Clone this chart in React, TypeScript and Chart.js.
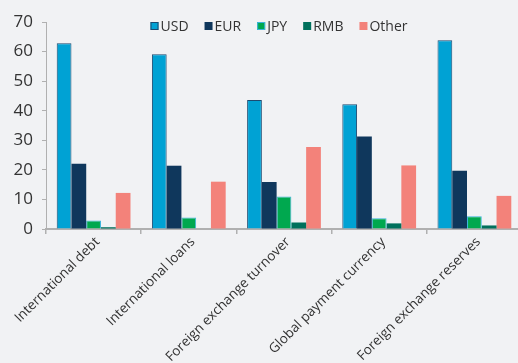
import React, { useEffect, useRef } from "react";
import { Chart, registerables } from "chart.js";

Chart.register(...registerables);

const categories = [
  "International debt",
  "International loans",
  "Foreign exchange turnover",
  "Global payment currency",
  "Foreign exchange reserves",
];
const usd = [62.8, 59.1, 43.6, 42.2, 63.8];
const eur = [22.1, 21.4, 15.9, 31.3, 19.7];
const jpy = [2.9, 3.9, 11.0, 3.6, 4.3];
const rmb = [0.6, 0, 2.2, 1.9, 1.2];
const other = [12.2, 16.0, 27.7, 21.5, 11.2];
const yTicks = [0, 10, 20, 30, 40, 50, 60, 70];

const FONT = "'Open Sans', 'Noto Sans', sans-serif";
const BG = "#f1f2f4";
const TEXT = "#333333";
const AXIS = "#b0b0b0";
const CANVAS_W = 522;
const CANVAS_H = 400;

const legendPlugin = {
  id: "customLegend",
  afterDraw(chart: any) {
    const ctx = chart.ctx;
    const area = chart.chartArea;
    const ds = chart.data.datasets;
    ctx.save();
    ctx.font = `14px ${FONT}`;
    const box = 8;
    const gap = 2;
    const spacing = 16;
    const widths = ds.map((d: any) => box + gap + ctx.measureText(d.label).width);
    const total = widths.reduce((a: number, b: number) => a + b, 0) + spacing * (ds.length - 1);
    let x = (area.left + area.right) / 2 - 5 - total / 2;
    const cy = area.top + 4;
    ds.forEach((d: any, i: number) => {
      ctx.fillStyle = d.backgroundColor;
      ctx.fillRect(x, cy - box / 2, box, box);
      if (d.borderWidth) {
        ctx.strokeStyle = d.borderColor;
        ctx.lineWidth = 1;
        ctx.strokeRect(x + 0.5, cy - box / 2 + 0.5, box - 1, box - 1);
      }
      ctx.fillStyle = TEXT;
      ctx.textAlign = "left";
      ctx.textBaseline = "middle";
      ctx.fillText(d.label, x + box + gap, cy + 1);
      x += widths[i] + spacing;
    });
    ctx.restore();
  },
};

export default function App() {
  const ref = useRef<HTMLCanvasElement | null>(null);

  useEffect(() => {
    if (!ref.current) return;
    const chart = new Chart(ref.current, {
      type: "bar",
      data: {
        labels: categories,
        datasets: [
          { label: "USD", data: usd, backgroundColor: "#00a2d4", borderColor: "#1c4a70", borderWidth: 1 },
          { label: "EUR", data: eur, backgroundColor: "#0f375c", borderColor: "#0f375c", borderWidth: 0 },
          { label: "JPY", data: jpy, backgroundColor: "#00a84f", borderColor: "#3ab4dc", borderWidth: 1 },
          { label: "RMB", data: rmb, backgroundColor: "#00705c", borderColor: "#00705c", borderWidth: 0 },
          { label: "Other", data: other, backgroundColor: "#f3827a", borderColor: "#f3827a", borderWidth: 0 },
        ],
      },
      options: {
        animation: false,
        responsive: false,
        maintainAspectRatio: false,
        devicePixelRatio: 1,
        layout: { padding: { top: 22, right: 0, left: 0, bottom: 0 } },
        datasets: {
          bar: { barPercentage: 1, categoryPercentage: 0.775 },
        },
        plugins: {
          legend: { display: false },
          tooltip: { enabled: false },
        },
        scales: {
          x: {
            offset: true,
            grid: {
              offset: true,
              drawOnChartArea: false,
              drawTicks: true,
              tickLength: 5,
              color: AXIS,
              lineWidth: 1.5,
            },
            border: { display: true, color: AXIS, width: 2 },
            ticks: {
              color: TEXT,
              font: { family: FONT, size: 13.5 },
              maxRotation: 45,
              minRotation: 45,
              padding: 0,
              labelOffset: 4,
              autoSkip: false,
            },
            afterFit(scale: any) {
              scale.height = CANVAS_H - 229;
            },
          },
          y: {
            min: 0,
            max: 70,
            afterBuildTicks(scale: any) {
              scale.ticks = yTicks.map((v) => ({ value: v }));
            },
            grid: {
              drawOnChartArea: false,
              drawTicks: true,
              tickLength: 4,
              color: AXIS,
              lineWidth: 1,
            },
            border: { display: true, color: AXIS, width: 1 },
            ticks: {
              color: TEXT,
              font: { family: FONT, size: 17 },
              padding: 9,
            },
            afterFit(scale: any) {
              scale.width = 46;
            },
          },
        },
      },
      plugins: [legendPlugin],
    });
    return () => chart.destroy();
  }, []);

  return (
    <div
      style={{
        position: "fixed",
        left: 0,
        top: 0,
        width: 518,
        height: 363,
        overflow: "hidden",
        background: BG,
      }}
    >
      <canvas ref={ref} width={CANVAS_W} height={CANVAS_H} style={{ display: "block" }} />
    </div>
  );
}
